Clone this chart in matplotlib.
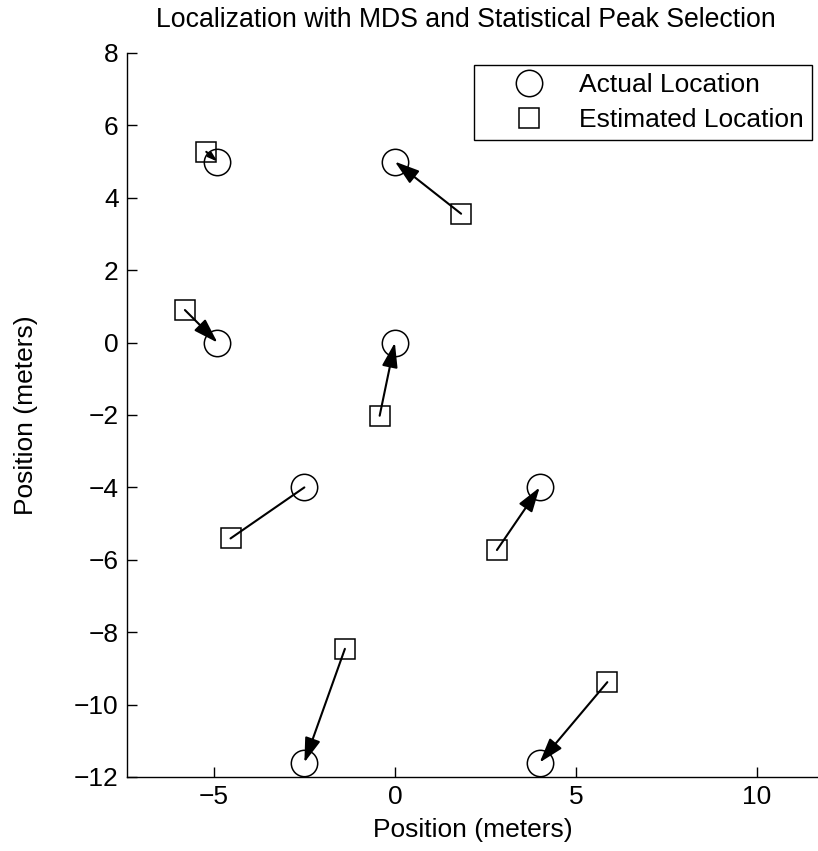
import matplotlib
matplotlib.use("Agg")
import matplotlib.pyplot as plt
from matplotlib.patches import FancyArrowPatch
import numpy as np

# actual node positions (meters)
actual_x = [-4.9, 0.0, -4.9, 0.0, -2.5, 4.0, -2.5, 4.0]
actual_y = [5.0, 5.0, 0.0, 0.0, -4.0, -4.0, -11.6, -11.6]

# estimated positions from MDS + statistical peak selection
est_x = [-5.21, 1.83, -5.80, -0.42, -4.54, 2.82, -1.38, 5.87]
est_y = [5.27, 3.56, 0.90, -2.02, -5.41, -5.73, -8.46, -9.38]

x_ticks = [-5, 0, 5, 10]
y_ticks = list(range(-12, 9, 2))

plt.rcParams['font.family'] = ['Liberation Sans', 'DejaVu Sans']
plt.rcParams['font.size'] = 19

fig = plt.figure(figsize=(8.18, 8.51), dpi=100)
ax = fig.add_axes([127 / 818, 74 / 851, 691 / 818, 724 / 851])

ax.plot(actual_x, actual_y, 'o', ms=19, mfc='none', mec='black', mew=1.1,
        label='Actual Location')
ax.plot(est_x, est_y, 's', ms=15, mfc='none', mec='black', mew=1.1,
        label='Estimated Location')

# arrows from estimate to actual (one of them drawn without a head)
no_head = {4}
px_per_unit = 36.2
for i in range(len(actual_x)):
    dist = np.hypot(actual_x[i] - est_x[i], actual_y[i] - est_y[i]) * px_per_unit
    if i in no_head:
        style = '-'
    else:
        hl = min(1.5, 0.5 * dist / 1.389 / 10)
        hw = min(0.48, hl * 0.32)
        style = f'-|>,head_length={hl:.2f},head_width={hw:.2f}'
    arr = FancyArrowPatch((est_x[i], est_y[i]), (actual_x[i], actual_y[i]),
                          arrowstyle=style, mutation_scale=10, lw=1.5,
                          color='black', shrinkA=0, shrinkB=0)
    ax.add_patch(arr)

ax.set_xlim(-7.4, 11.69)
ax.set_ylim(-12, 8)
ax.set_xticks(x_ticks)
ax.set_yticks(y_ticks)
ax.tick_params(direction='in', length=7, width=1.0, pad=6, top=False, right=False)
ax.spines['top'].set_visible(False)
ax.spines['right'].set_visible(False)
ax.spines['left'].set_linewidth(1.0)
ax.spines['bottom'].set_linewidth(1.0)

fig.text(466 / 818, 1 - 20 / 851, 'Localization with MDS and Statistical Peak Selection',
         fontsize=19.2, ha='center', va='center')
ax.set_xlabel('Position (meters)', labelpad=6)
ax.set_ylabel('Position (meters)', labelpad=26)

leg = ax.legend(loc='upper right', bbox_to_anchor=(685 / 691, 1 - 12 / 724),
                fancybox=False, framealpha=1, edgecolor='black',
                borderaxespad=0, borderpad=0.32, labelspacing=0.4,
                handlelength=3.54, handletextpad=0.1)
leg.get_frame().set_linewidth(1.0)

fig.savefig('out.png', dpi=100)
